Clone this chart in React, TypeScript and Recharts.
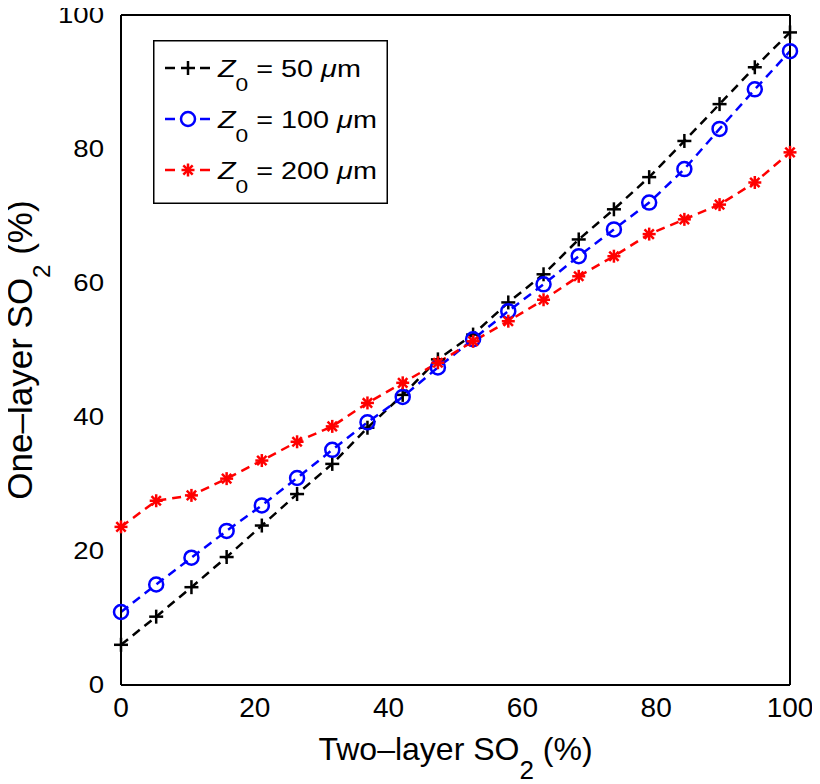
import React from 'react';
import { LineChart, Line, XAxis, YAxis, Legend } from 'recharts';

// Two-layer SO2 (%) values (x)
const twoLayer = [0, 5.26, 10.53, 15.79, 21.05, 26.32, 31.58, 36.84, 42.11, 47.37, 52.63, 57.89, 63.16, 68.42, 73.68, 78.95, 84.21, 89.47, 94.74, 100];
// One-layer SO2 (%) for each Z0
const z50 = [6.0, 10.2, 14.6, 19.1, 23.8, 28.5, 33.0, 38.4, 43.3, 48.6, 52.3, 57.1, 61.3, 66.5, 71.0, 75.8, 81.2, 86.7, 92.2, 97.4];
const z100 = [10.9, 15.0, 19.0, 23.0, 26.8, 30.9, 35.1, 39.2, 43.0, 47.4, 51.6, 55.8, 59.8, 64.0, 68.0, 72.0, 77.0, 83.0, 88.9, 94.6];
const z200 = [23.6, 27.5, 28.3, 30.8, 33.5, 36.3, 38.6, 42.1, 45.1, 48.1, 51.3, 54.3, 57.5, 61.0, 64.0, 67.3, 69.5, 71.7, 75.0, 79.5];

const xTicks = [0, 20, 40, 60, 80, 100];
const yTicks = [0, 20, 40, 60, 80, 100];
const legendValues = ['50', '100', '200'];

const data = twoLayer.map((x, i) => ({ x, a: z50[i], b: z100[i], c: z200[i] }));

const FONT = '"Liberation Sans", Arial, Helvetica, sans-serif';
const BLACK = '#000000';
const BLUE = '#0000ff';
const RED = '#ff0000';

const Plus = ({ cx, cy, color }: any) => (
  <g stroke={color} strokeWidth={2.5}>
    <line x1={cx - 7} y1={cy} x2={cx + 7} y2={cy} />
    <line x1={cx} y1={cy - 7} x2={cx} y2={cy + 7} />
  </g>
);
const Ring = ({ cx, cy, color }: any) => (
  <circle cx={cx} cy={cy} r={7} fill="none" stroke={color} strokeWidth={2.5} />
);
const Star = ({ cx, cy, color }: any) => {
  const r = 6.5;
  const d = r * 0.72;
  return (
    <g stroke={color} strokeWidth={2.5}>
      <line x1={cx - r} y1={cy} x2={cx + r} y2={cy} />
      <line x1={cx} y1={cy - r} x2={cx} y2={cy + r} />
      <line x1={cx - d} y1={cy - d} x2={cx + d} y2={cy + d} />
      <line x1={cx - d} y1={cy + d} x2={cx + d} y2={cy - d} />
    </g>
  );
};

const markers = [
  { Comp: Plus, color: BLACK },
  { Comp: Ring, color: BLUE },
  { Comp: Star, color: RED },
];

const XTick = ({ x, y, payload }: any) => (
  <text x={x} y={y + 32} textAnchor="middle" fontSize={28} fontFamily={FONT} fill="#000">
    {payload.value}
  </text>
);
const YTick = ({ x, y, payload }: any) => (
  <text
    transform={`translate(${x - 17},${y + 8}) scale(1.2,1)`}
    textAnchor="end"
    fontSize={23}
    fontFamily={FONT}
    fill="#000"
  >
    {payload.value}
  </text>
);

const XTitle = ({ viewBox }: any) => {
  const cx = viewBox.x + viewBox.width / 2;
  const by = viewBox.y + 75;
  return (
    <text x={cx} y={by} textAnchor="middle" fontSize={32} fontFamily={FONT} fill="#000">
      Two–layer SO
      <tspan dy={19} fontSize={26}>2</tspan>
      <tspan dy={-19}> (%)</tspan>
    </text>
  );
};
const YTitle = ({ viewBox }: any) => {
  const cy = viewBox.y + viewBox.height / 2;
  return (
    <text
      transform={`translate(32,${cy}) rotate(-90)`}
      textAnchor="middle"
      fontSize={35}
      fontFamily={FONT}
      fill="#000"
    >
      One–layer SO
      <tspan dy={18} fontSize={24}>2</tspan>
      <tspan dy={-18}> (%)</tspan>
    </text>
  );
};

const LW = 235;
const LH = 164;
const LegendBox = () => (
  <svg width={LW} height={LH} style={{ display: 'block' }}>
    <rect x={0.75} y={0.75} width={LW - 1.5} height={LH - 1.5} fill="#fff" stroke="#000" strokeWidth={1.5} />
    {legendValues.map((v, i) => {
      const cy = 28 + i * 51;
      const { Comp, color } = markers[i];
      return (
        <g key={v}>
          <line x1={12} x2={22} y1={cy} y2={cy} stroke={color} strokeWidth={2.5} />
          <line x1={47} x2={57} y1={cy} y2={cy} stroke={color} strokeWidth={2.5} />
          <Comp cx={35} cy={cy} color={color} />
          <text
            transform={`translate(65,${cy + 9}) scale(1.2,1)`}
            fontSize={24}
            fontFamily={FONT}
            fill="#000"
          >
            <tspan fontStyle="italic">Z</tspan>
            <tspan dy={14} fontSize={19}>0</tspan>
            <tspan dy={-14}>{` = ${v} `}</tspan>
            <tspan fontStyle="italic">μ</tspan>
            <tspan>m</tspan>
          </text>
        </g>
      );
    })}
  </svg>
);

const axisStroke = { stroke: '#000', strokeWidth: 2 };

export default function App() {
  const keys = ['a', 'b', 'c'];
  return (
    <LineChart
      width={820}
      height={784}
      data={data}
      margin={{ top: 15, right: 30, left: 0, bottom: 0 }}
      style={{ background: '#fff', marginTop: -8, marginLeft: -8 }}
    >
      <XAxis
        xAxisId="b"
        dataKey="x"
        type="number"
        domain={[0, 100]}
        ticks={xTicks}
        tick={<XTick />}
        tickLine={false}
        tickSize={0}
        tickMargin={0}
        axisLine={axisStroke}
        height={99}
        label={<XTitle />}
      />
      <XAxis
        xAxisId="bm"
        dataKey="x"
        type="number"
        domain={[0, 100]}
        ticks={xTicks}
        orientation="bottom"
        mirror
        tick={false}
        tickLine={axisStroke}
        tickSize={8}
        axisLine={false}
      />
      <XAxis
        xAxisId="t"
        dataKey="x"
        type="number"
        domain={[0, 100]}
        ticks={xTicks}
        orientation="top"
        mirror
        tick={false}
        tickLine={axisStroke}
        tickSize={8}
        axisLine={axisStroke}
      />
      <YAxis
        yAxisId="l"
        type="number"
        domain={[0, 100]}
        ticks={yTicks}
        tick={<YTick />}
        tickLine={false}
        tickSize={0}
        tickMargin={0}
        axisLine={axisStroke}
        width={121}
        label={<YTitle />}
      />
      <YAxis
        yAxisId="lm"
        type="number"
        domain={[0, 100]}
        ticks={yTicks}
        orientation="left"
        mirror
        tick={false}
        tickLine={axisStroke}
        tickSize={8}
        axisLine={false}
      />
      <YAxis
        yAxisId="r"
        type="number"
        domain={[0, 100]}
        ticks={yTicks}
        orientation="right"
        mirror
        tick={false}
        tickLine={axisStroke}
        tickSize={8}
        axisLine={axisStroke}
      />
      {keys.map((k, i) => {
        const { Comp, color } = markers[i];
        return (
          <Line
            key={k}
            xAxisId="b"
            yAxisId="l"
            dataKey={k}
            type="linear"
            stroke={color}
            strokeWidth={2.5}
            strokeDasharray="9 6"
            isAnimationActive={false}
            dot={(p: any) => <Comp key={`${k}-${p.index}`} cx={p.cx} cy={p.cy} color={color} />}
            activeDot={false}
          />
        );
      })}
      <Legend
        layout="horizontal"
        verticalAlign="middle"
        align="center"
        wrapperStyle={{ left: 153, top: 40, width: LW, height: LH }}
        content={() => <LegendBox />}
      />
    </LineChart>
  );
}
